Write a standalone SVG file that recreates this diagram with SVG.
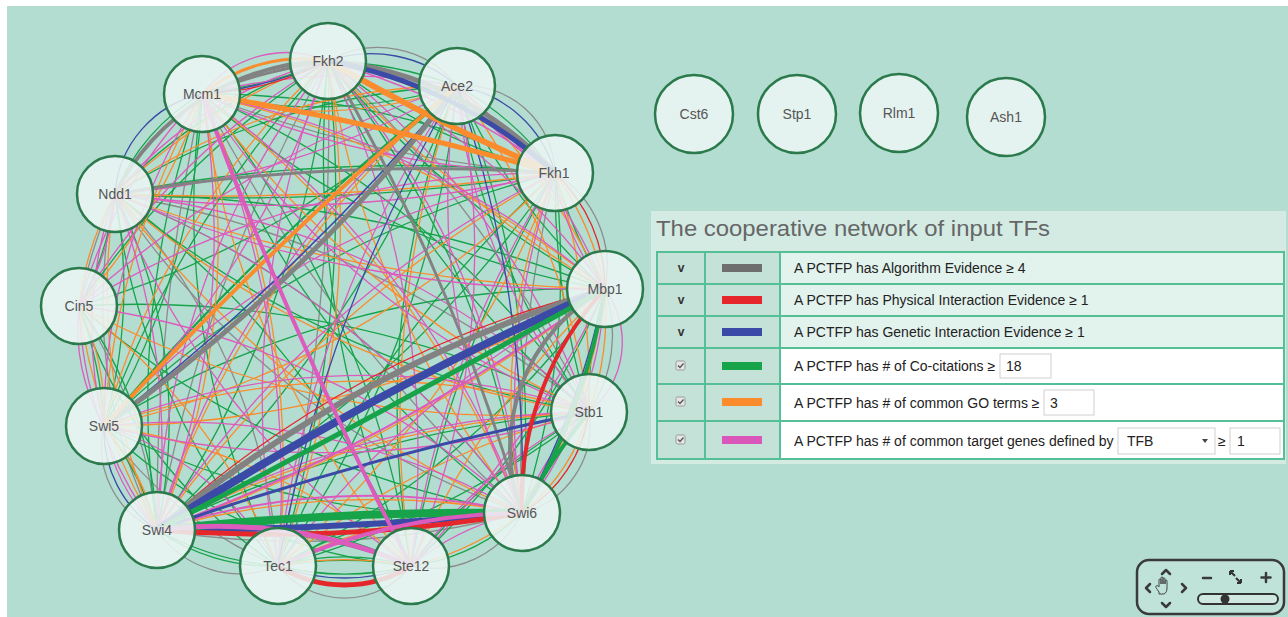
<svg xmlns="http://www.w3.org/2000/svg" width="1288" height="617" viewBox="0 0 1288 617">
<style>
.e path{fill:none;stroke-width:1.3}
.gy path{stroke:#8c8c8c}
.gt path{stroke:#828282}
.gn path{stroke:#17a34a}
.or path{stroke:#fa8c2d}
.pk path{stroke:#dc5bbd}
.bl path{stroke:#3a4aa6}
.rd path{stroke:#e5262b}
.node circle{fill:#eef7f4;fill-opacity:0.86;stroke:#2a7a4c;stroke-width:2.5}
.node text{font-family:"Liberation Sans",Arial,sans-serif;font-size:14px;fill:#555;text-anchor:middle}
.lt{font-family:"Liberation Sans",Arial,sans-serif;font-size:14px;fill:#222}
.v{font-family:"Liberation Sans",Arial,sans-serif;font-size:12px;font-weight:bold;fill:#333;text-anchor:middle}
.c12{fill:#c4e2d8}
.cb{fill:#e6e6e6;stroke:#9a9a9a;stroke-width:1}
.ck{fill:none;stroke:#555;stroke-width:1.3}
.inp{fill:#fff;stroke:#cfcfcf;stroke-width:1}
.nav{fill:none;stroke:#3a3a3a;stroke-width:2.5;stroke-linecap:round;stroke-linejoin:round}
</style>
<rect width="1288" height="617" fill="#ffffff"/>
<rect x="7" y="6" width="1281" height="611" fill="#b3ddd1"/>

<g id="connectors" class="e">
<g class="gy">
<path d="M328 61A100 100 0 0 1 457 86"/>
<path d="M457 86A90 90 0 0 1 555 173"/>
<path d="M555 173A110 110 0 0 1 605 289"/>
<path d="M605 289A140 140 0 0 1 589 412"/>
<path d="M589 412A90 90 0 0 1 522 513"/>
<path d="M522 513A100 100 0 0 1 411 566"/>
<path d="M411 566A85 85 0 0 1 278 566"/>
<path d="M278 566A100 100 0 0 1 157 530"/>
<path d="M157 530A90 90 0 0 1 104 426"/>
<path d="M79 306A500 500 0 0 1 115 194"/>
<path d="M328 61A1500 1500 0 0 0 157 530"/>
<path d="M328 61A1200 1200 0 0 1 589 412"/>
<path d="M328 61A2000 2000 0 0 1 278 566"/>
<path d="M202 94A1200 1200 0 0 0 555 173"/>
<path d="M202 94A1500 1500 0 0 0 522 513"/>
<path d="M202 94A2000 2000 0 0 0 157 530"/>
<path d="M115 194A1000 1000 0 0 1 589 412"/>
<path d="M115 194A800 800 0 0 0 522 513"/>
<path d="M115 194A600 600 0 0 1 278 566"/>
<path d="M115 194A500 500 0 0 0 157 530"/>
<path d="M79 306A500 500 0 0 1 157 530"/>
<path d="M104 426A400 400 0 0 0 278 566"/>
<path d="M157 530A900 900 0 0 0 522 513"/>
<path d="M157 530A600 600 0 0 1 411 566"/>
<path d="M522 513A1200 1200 0 0 1 555 173"/>
</g>
<g class="gn">
<path d="M328 61A400 400 0 0 1 457 86"/>
<path d="M457 86A300 300 0 0 1 555 173"/>
<path d="M555 173A500 500 0 0 0 605 289"/>
<path d="M605 289A400 400 0 0 0 589 412"/>
<path d="M522 513A200 200 0 0 1 411 566"/>
<path d="M411 566A280 280 0 0 1 278 566"/>
<path d="M411 566A250 250 0 0 0 278 566"/>
<path d="M411 566A400 400 0 0 0 278 566"/>
<path d="M278 566A300 300 0 0 1 157 530"/>
<path d="M157 530A300 300 0 0 0 104 426"/>
<path d="M104 426A400 400 0 0 0 79 306"/>
<path d="M79 306A300 300 0 0 0 115 194"/>
<path d="M115 194A200 200 0 0 1 202 94"/>
<path d="M202 94A500 500 0 0 0 328 61"/>
<path d="M328 61A900 900 0 0 0 605 289"/>
<path d="M328 61A900 900 0 0 0 589 412"/>
<path d="M328 61A900 900 0 0 1 522 513"/>
<path d="M328 61A1000 1000 0 0 0 411 566"/>
<path d="M328 61A1200 1200 0 0 1 278 566"/>
<path d="M328 61A1000 1000 0 0 1 157 530"/>
<path d="M328 61A1100 1100 0 0 0 104 426"/>
<path d="M328 61A900 900 0 0 0 79 306"/>
<path d="M328 61A500 500 0 0 0 115 194"/>
<path d="M328 61A600 600 0 0 0 555 173"/>
<path d="M457 86A500 500 0 0 1 202 94"/>
<path d="M457 86A700 700 0 0 0 115 194"/>
<path d="M457 86A900 900 0 0 1 79 306"/>
<path d="M457 86A1500 1500 0 0 1 104 426"/>
<path d="M457 86A2500 2500 0 0 0 104 426" style="stroke-width:2"/>
<path d="M457 86A1200 1200 0 0 1 157 530"/>
<path d="M457 86A1000 1000 0 0 1 278 566"/>
<path d="M457 86A900 900 0 0 0 411 566"/>
<path d="M457 86A900 900 0 0 1 522 513"/>
<path d="M457 86A800 800 0 0 0 589 412"/>
<path d="M457 86A600 600 0 0 0 605 289"/>
<path d="M202 94A800 800 0 0 1 555 173"/>
<path d="M202 94A800 800 0 0 0 605 289"/>
<path d="M202 94A900 900 0 0 1 589 412"/>
<path d="M202 94A900 900 0 0 0 522 513"/>
<path d="M202 94A1000 1000 0 0 1 411 566"/>
<path d="M202 94A800 800 0 0 0 278 566"/>
<path d="M202 94A900 900 0 0 0 157 530"/>
<path d="M202 94A700 700 0 0 1 104 426"/>
<path d="M115 194A1500 1500 0 0 1 555 173"/>
<path d="M115 194A2000 2000 0 0 0 555 173"/>
<path d="M115 194A1400 1400 0 0 1 605 289"/>
<path d="M115 194A1000 1000 0 0 0 589 412"/>
<path d="M115 194A900 900 0 0 1 522 513"/>
<path d="M115 194A900 900 0 0 1 411 566"/>
<path d="M115 194A700 700 0 0 0 278 566"/>
<path d="M115 194A500 500 0 0 1 157 530"/>
<path d="M115 194A500 500 0 0 1 104 426"/>
<path d="M79 306A400 400 0 0 1 157 530"/>
<path d="M79 306A500 500 0 0 0 278 566"/>
<path d="M79 306A900 900 0 0 0 522 513"/>
<path d="M79 306A1000 1000 0 0 1 589 412"/>
<path d="M104 426A800 800 0 0 0 522 513"/>
<path d="M104 426A900 900 0 0 1 605 289"/>
<path d="M104 426A1000 1000 0 0 1 555 173"/>
<path d="M104 426A500 500 0 0 0 411 566"/>
<path d="M157 530A1200 1200 0 0 1 589 412"/>
<path d="M157 530A1100 1100 0 0 0 555 173"/>
<path d="M157 530A400 400 0 0 1 411 566"/>
<path d="M157 530A200 200 0 0 0 278 566"/>
<path d="M278 566A900 900 0 0 0 605 289"/>
<path d="M278 566A900 900 0 0 0 589 412"/>
<path d="M278 566A400 400 0 0 1 522 513"/>
<path d="M278 566A1100 1100 0 0 1 555 173"/>
<path d="M411 566A800 800 0 0 0 605 289"/>
<path d="M411 566A600 600 0 0 1 589 412"/>
<path d="M411 566A1200 1200 0 0 1 555 173"/>
<path d="M522 513A800 800 0 0 0 555 173"/>
<path d="M589 412A800 800 0 0 1 555 173"/>
</g>
<g class="or">
<path d="M555 173A300 300 0 0 1 605 289"/>
<path d="M605 289A300 300 0 0 1 589 412"/>
<path d="M589 412A200 200 0 0 1 522 513"/>
<path d="M522 513A300 300 0 0 1 411 566"/>
<path d="M411 566A350 350 0 0 0 278 566"/>
<path d="M157 530A250 250 0 0 0 104 426"/>
<path d="M104 426A250 250 0 0 0 79 306"/>
<path d="M79 306A300 300 0 0 1 115 194"/>
<path d="M328 61A1200 1200 0 0 0 605 289"/>
<path d="M328 61A1000 1000 0 0 0 522 513"/>
<path d="M328 61A1000 1000 0 0 1 278 566"/>
<path d="M328 61A800 800 0 0 0 104 426"/>
<path d="M328 61A600 600 0 0 0 115 194"/>
<path d="M457 86A400 400 0 0 1 202 94"/>
<path d="M457 86A600 600 0 0 0 115 194"/>
<path d="M457 86A1000 1000 0 0 0 157 530"/>
<path d="M457 86A1000 1000 0 0 0 411 566"/>
<path d="M457 86A700 700 0 0 1 589 412"/>
<path d="M457 86A700 700 0 0 1 605 289"/>
<path d="M202 94A1000 1000 0 0 1 605 289"/>
<path d="M202 94A1000 1000 0 0 0 589 412"/>
<path d="M202 94A1000 1000 0 0 1 522 513"/>
<path d="M202 94A900 900 0 0 0 411 566"/>
<path d="M202 94A900 900 0 0 1 278 566"/>
<path d="M202 94A700 700 0 0 1 157 530"/>
<path d="M202 94A800 800 0 0 0 104 426"/>
<path d="M202 94A600 600 0 0 1 79 306"/>
<path d="M115 194A2500 2500 0 0 0 555 173"/>
<path d="M115 194A1500 1500 0 0 0 605 289"/>
<path d="M115 194A900 900 0 0 0 589 412"/>
<path d="M115 194A1000 1000 0 0 0 522 513"/>
<path d="M115 194A600 600 0 0 0 157 530"/>
<path d="M79 306A600 600 0 0 0 157 530"/>
<path d="M79 306A600 600 0 0 1 278 566"/>
<path d="M79 306A900 900 0 0 0 589 412"/>
<path d="M104 426A800 800 0 0 1 589 412"/>
<path d="M104 426A1000 1000 0 0 0 605 289"/>
<path d="M104 426A900 900 0 0 0 555 173"/>
<path d="M104 426A600 600 0 0 1 411 566"/>
<path d="M157 530A1600 1600 0 0 0 605 289"/>
<path d="M157 530A800 800 0 0 1 522 513"/>
<path d="M157 530A1000 1000 0 0 1 589 412"/>
<path d="M157 530A1200 1200 0 0 1 555 173"/>
<path d="M157 530A500 500 0 0 1 411 566"/>
<path d="M278 566A800 800 0 0 1 589 412"/>
<path d="M278 566A500 500 0 0 1 522 513"/>
<path d="M278 566A1000 1000 0 0 0 555 173"/>
<path d="M411 566A900 900 0 0 1 605 289"/>
<path d="M522 513A500 500 0 0 0 605 289"/>
<path d="M522 513A600 600 0 0 1 555 173"/>
<path d="M589 412A700 700 0 0 0 555 173"/>
</g>
<g class="pk">
<path d="M457 86A300 300 0 0 0 555 173"/>
<path d="M555 173A250 250 0 0 0 605 289"/>
<path d="M605 289A90 90 0 0 1 589 412"/>
<path d="M589 412A250 250 0 0 0 522 513"/>
<path d="M522 513A250 250 0 0 0 411 566"/>
<path d="M157 530A200 200 0 0 1 104 426"/>
<path d="M104 426A200 200 0 0 1 79 306"/>
<path d="M79 306A250 250 0 0 0 115 194"/>
<path d="M202 94A107 107 0 0 1 328 61"/>
<path d="M328 61A700 700 0 0 1 605 289"/>
<path d="M328 61A800 800 0 0 1 589 412"/>
<path d="M328 61A800 800 0 0 1 522 513"/>
<path d="M328 61A900 900 0 0 1 411 566"/>
<path d="M328 61A900 900 0 0 0 278 566"/>
<path d="M328 61A800 800 0 0 0 157 530"/>
<path d="M328 61A900 900 0 0 1 104 426"/>
<path d="M328 61A700 700 0 0 0 79 306"/>
<path d="M328 61A400 400 0 0 0 115 194"/>
<path d="M328 61A700 700 0 0 1 555 173"/>
<path d="M457 86A600 600 0 0 0 202 94"/>
<path d="M457 86A800 800 0 0 1 115 194"/>
<path d="M457 86A1000 1000 0 0 0 79 306"/>
<path d="M457 86A900 900 0 0 0 157 530"/>
<path d="M457 86A1100 1100 0 0 0 278 566"/>
<path d="M457 86A800 800 0 0 1 411 566"/>
<path d="M457 86A700 700 0 0 0 522 513"/>
<path d="M457 86A600 600 0 0 0 589 412"/>
<path d="M457 86A500 500 0 0 1 605 289"/>
<path d="M202 94A900 900 0 0 0 555 173"/>
<path d="M202 94A900 900 0 0 1 605 289"/>
<path d="M202 94A800 800 0 0 0 589 412"/>
<path d="M202 94A900 900 0 0 1 522 513"/>
<path d="M202 94A1000 1000 0 0 1 278 566"/>
<path d="M202 94A800 800 0 0 1 157 530"/>
<path d="M202 94A600 600 0 0 0 104 426"/>
<path d="M202 94A500 500 0 0 0 79 306"/>
<path d="M115 194A1200 1200 0 0 0 555 173"/>
<path d="M115 194A1200 1200 0 0 0 605 289"/>
<path d="M115 194A800 800 0 0 1 589 412"/>
<path d="M115 194A900 900 0 0 1 522 513"/>
<path d="M115 194A800 800 0 0 0 411 566"/>
<path d="M115 194A700 700 0 0 1 157 530"/>
<path d="M115 194A400 400 0 0 0 104 426"/>
<path d="M79 306A400 400 0 0 0 157 530"/>
<path d="M79 306A800 800 0 0 1 522 513"/>
<path d="M79 306A900 900 0 0 1 555 173"/>
<path d="M104 426A700 700 0 0 1 589 412"/>
<path d="M104 426A900 900 0 0 0 589 412"/>
<path d="M104 426A700 700 0 0 1 522 513"/>
<path d="M104 426A800 800 0 0 1 555 173"/>
<path d="M104 426A300 300 0 0 1 278 566"/>
<path d="M157 530A680 680 0 0 1 522 513" style="stroke-width:2"/>
<path d="M157 530A1800 1800 0 0 0 605 289" style="stroke-width:2"/>
<path d="M157 530A900 900 0 0 1 589 412"/>
<path d="M157 530A1000 1000 0 0 1 555 173"/>
<path d="M278 566A1000 1000 0 0 1 605 289"/>
<path d="M411 566A1000 1000 0 0 0 605 289"/>
<path d="M411 566A500 500 0 0 1 589 412"/>
<path d="M522 513A400 400 0 0 0 605 289"/>
<path d="M522 513A700 700 0 0 1 555 173"/>
<path d="M555 173A1000 1000 0 0 0 411 566"/>
</g>
<g class="bl">
<path d="M328 61A130 130 0 0 1 457 86"/>
<path d="M457 86A120 120 0 0 1 555 173"/>
<path d="M157 530A120 120 0 0 1 104 426"/>
<path d="M115 194A110 110 0 0 1 202 94"/>
<path d="M411 566A190 190 0 0 1 278 566"/>
<path d="M202 94A400 400 0 0 0 328 61"/>
<path d="M457 86A2200 2200 0 0 1 104 426" style="stroke-width:1.6"/>
<path d="M457 86A1200 1200 0 0 1 522 513"/>
<path d="M457 86A1500 1500 0 0 0 278 566"/>
<path d="M522 513A800 800 0 0 0 605 289"/>
</g>
<g class="rd">
<path d="M555 173A160 160 0 0 1 605 289"/>
<path d="M589 412A140 140 0 0 1 522 513"/>
<path d="M202 94A300 300 0 0 0 328 61"/>
<path d="M157 530A1000 1000 0 0 1 605 289"/>
</g>
<g class="gt">
<path d="M115 194A245 245 0 0 1 328 61" style="stroke-width:4"/>
<path d="M328 61A345 345 0 0 1 555 173" style="stroke-width:5"/>
<path d="M457 86A1600 1600 0 0 1 104 426" style="stroke-width:5"/>
<path d="M157 530A1300 1300 0 0 1 605 289" style="stroke-width:6"/>
<path d="M522 513A181 181 0 0 1 605 289" style="stroke-width:4"/>
<path d="M328 61A2000 2000 0 0 1 522 513" style="stroke-width:3"/>
<path d="M115 194A1900 1900 0 0 1 555 173" style="stroke-width:3"/>
<path d="M202 94A600 600 0 0 1 328 61" style="stroke-width:3"/>
</g>
<g class="or">
<path d="M328 61A2000 2000 0 0 0 555 173" style="stroke-width:6"/>
<path d="M202 94A3000 3000 0 0 1 555 173" style="stroke-width:5"/>
<path d="M457 86A4000 4000 0 0 0 104 426" style="stroke-width:4"/>
<path d="M202 94A160 160 0 0 1 328 61" style="stroke-width:3"/>
</g>
<g class="bl">
<path d="M328 61A453 453 0 0 1 555 173" style="stroke-width:5"/>
<path d="M157 530A3000 3000 0 0 1 605 289" style="stroke-width:8"/>
<path d="M157 530A4000 4000 0 0 0 522 513" style="stroke-width:6"/>
<path d="M157 530A3000 3000 0 0 1 589 412" style="stroke-width:3"/>
</g>
<g class="gn">
<path d="M157 530A20000 20000 0 0 0 605 289" style="stroke-width:5"/>
<path d="M157 530A3000 3000 0 0 1 522 513" style="stroke-width:8"/>
<path d="M522 513A600 600 0 0 0 605 289" style="stroke-width:4"/>
<path d="M589 412A600 600 0 0 0 522 513" style="stroke-width:4"/>
</g>
<g class="rd">
<path d="M411 566A126 126 0 0 1 278 566" style="stroke-width:5"/>
<path d="M157 530A1500 1500 0 0 0 522 513" style="stroke-width:5"/>
<path d="M522 513A310 310 0 0 1 605 289" style="stroke-width:4"/>
</g>
<g class="pk">
<path d="M202 94A4000 4000 0 0 0 411 566" style="stroke-width:4"/>
<path d="M157 530A490 490 0 0 1 411 566" style="stroke-width:5"/>
<path d="M278 566A600 600 0 0 1 522 513" style="stroke-width:4"/>
</g>
</g>

<g id="node-Fkh2" class="node"><circle cx="328" cy="61" r="38"/><text x="328" y="66">Fkh2</text></g>
<g id="node-Ace2" class="node"><circle cx="457" cy="86" r="38"/><text x="457" y="91">Ace2</text></g>
<g id="node-Mcm1" class="node"><circle cx="202" cy="94" r="38"/><text x="202" y="99">Mcm1</text></g>
<g id="node-Fkh1" class="node"><circle cx="555" cy="173" r="38"/><text x="554" y="178">Fkh1</text></g>
<g id="node-Ndd1" class="node"><circle cx="115" cy="194" r="38"/><text x="115" y="199">Ndd1</text></g>
<g id="node-Mbp1" class="node"><circle cx="605" cy="289" r="38"/><text x="605" y="294">Mbp1</text></g>
<g id="node-Cin5" class="node"><circle cx="79" cy="306" r="38"/><text x="79" y="311">Cin5</text></g>
<g id="node-Stb1" class="node"><circle cx="589" cy="412" r="38"/><text x="589" y="417">Stb1</text></g>
<g id="node-Swi5" class="node"><circle cx="104" cy="426" r="38"/><text x="104" y="431">Swi5</text></g>
<g id="node-Swi6" class="node"><circle cx="522" cy="513" r="38"/><text x="522" y="518">Swi6</text></g>
<g id="node-Swi4" class="node"><circle cx="157" cy="530" r="38"/><text x="157" y="535">Swi4</text></g>
<g id="node-Tec1" class="node"><circle cx="278" cy="566" r="38"/><text x="278" y="571">Tec1</text></g>
<g id="node-Ste12" class="node"><circle cx="411" cy="566" r="38"/><text x="411" y="571">Ste12</text></g>
<g id="node-Cst6" class="node"><circle cx="694" cy="114" r="39"/><text x="694" y="119">Cst6</text></g>
<g id="node-Stp1" class="node"><circle cx="797" cy="114" r="39"/><text x="797" y="119">Stp1</text></g>
<g id="node-Rlm1" class="node"><circle cx="899" cy="113" r="39"/><text x="899" y="118">Rlm1</text></g>
<g id="node-Ash1" class="node"><circle cx="1006" cy="117" r="39"/><text x="1006" y="122">Ash1</text></g>

<g id="legend">
<rect x="651" y="211" width="635" height="253" fill="#d4ebe4"/>
<text x="656" y="236" font-family="Liberation Sans, Arial, sans-serif" font-size="22" fill="#666" textLength="394" lengthAdjust="spacingAndGlyphs">The cooperative network of input TFs</text>
<rect class="c12" x="657" y="252" width="123" height="207"/>
<rect x="780" y="252" width="504" height="96" fill="#e2f2ed"/>
<rect x="780" y="348" width="504" height="111" fill="#ffffff"/>
<g stroke="#55bf98" stroke-width="2" fill="none">
<rect x="657" y="252" width="627" height="207"/>
<path d="M657 284H1284M657 316H1284M657 348H1284M657 384H1284M657 421H1284M705 252V459M780 252V459"/>
</g>
<text class="v" x="681" y="272">v</text>
<text class="v" x="681" y="304">v</text>
<text class="v" x="681" y="336">v</text>
<rect class="cb" x="676" y="361" width="9" height="9" rx="1.5"/><path class="ck" d="M678 365.5l2 2 3.5-4"/>
<rect class="cb" x="676" y="397" width="9" height="9" rx="1.5"/><path class="ck" d="M678 401.5l2 2 3.5-4"/>
<rect class="cb" x="676" y="435" width="9" height="9" rx="1.5"/><path class="ck" d="M678 439.5l2 2 3.5-4"/>
<rect x="722" y="264" width="40" height="8" fill="#6e6e6e"/>
<rect x="722" y="296" width="40" height="8" fill="#e5262b"/>
<rect x="722" y="328" width="40" height="8" fill="#3a4aa6"/>
<rect x="722" y="362" width="40" height="8" fill="#17a34a"/>
<rect x="722" y="398" width="40" height="8" fill="#fa8c2d"/>
<rect x="722" y="436" width="40" height="8" fill="#d957b8"/>
<text class="lt" x="794" y="273">A PCTFP has Algorithm Evidence ≥ 4</text>
<text class="lt" x="794" y="305">A PCTFP has Physical Interaction Evidence ≥ 1</text>
<text class="lt" x="794" y="337">A PCTFP has Genetic Interaction Evidence ≥ 1</text>
<text class="lt" x="794" y="371">A PCTFP has # of Co-citations ≥</text>
<rect class="inp" x="1000" y="354" width="51" height="24"/>
<text class="lt" x="1006" y="371">18</text>
<text class="lt" x="794" y="407.5">A PCTFP has # of common GO terms ≥</text>
<rect class="inp" x="1044" y="390" width="50" height="25"/>
<text class="lt" x="1050" y="407.5">3</text>
<text class="lt" x="794" y="445.5">A PCTFP has # of common target genes defined by</text>
<rect class="inp" x="1118" y="428" width="97" height="26"/>
<text class="lt" x="1127" y="445.5">TFB</text>
<path d="M1202 439h6l-3 4z" fill="#444"/>
<text class="lt" x="1218" y="445.5">≥</text>
<rect class="inp" x="1230" y="428" width="50" height="26"/>
<text class="lt" x="1237" y="445.5">1</text>
</g>

<g id="navigator">
<rect x="1137" y="560" width="147" height="54" rx="12" fill="#bfe3d8" stroke="#3a3a3a" stroke-width="2.5"/>
<path class="nav" d="M1162 574l4-4 4 4M1162 603l4 4 4-4M1150 584l-4 4 4 4M1182 584l4 4-4 4"/>
<path d="M1159 592c-2-3-4-5-3-6 1-1 2 0 3 1v-7c0-1.5 2-1.5 2 0v4-6c0-1.5 2-1.5 2 0v6-5c0-1.5 2-1.5 2 0v5-3c0-1.5 2-1.5 2 0v7c0 3-1 5-3 6h-5z" fill="none" stroke="#444" stroke-width="1"/>
<path class="nav" d="M1203 578h8M1266 573v9M1261.5 577.5h9"/>
<path d="M1230 571l5 5M1230 571h4M1230 571v4M1236 578l5 5M1241 583h-4M1241 583v-4" stroke="#333" stroke-width="2" fill="none"/>
<rect x="1198" y="594" width="80" height="10" rx="5" fill="#cfe9e1" stroke="#333" stroke-width="2"/>
<circle cx="1225" cy="599" r="4.5" fill="#333"/>
</g>
</svg>
